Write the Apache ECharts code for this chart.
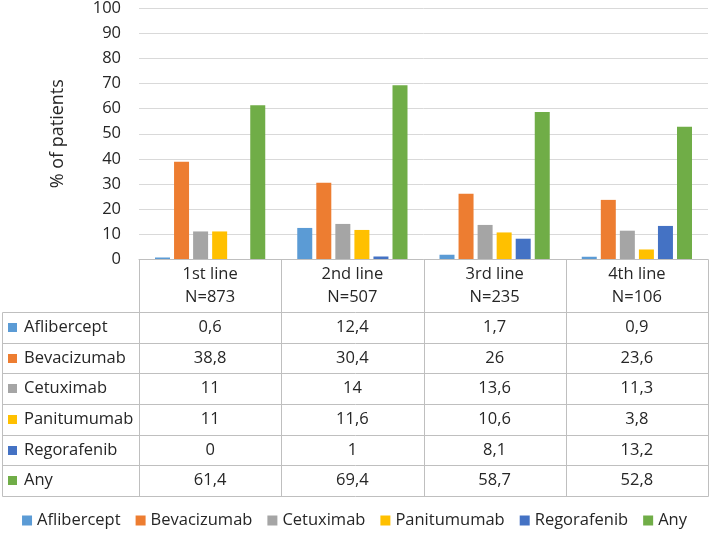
<!DOCTYPE html>
<html>
<head>
<meta charset="utf-8">
<script src="https://cdn.jsdelivr.net/npm/echarts@6/dist/echarts.min.js"></script>
<style>html,body{margin:0;padding:0;background:#fff;}#c{width:709px;height:535px;}</style>
</head>
<body>
<div id="c"></div>
<script>
const categories = ['1st line\nN=873', '2nd line\nN=507', '3rd line\nN=235', '4th line\nN=106'];
const seriesNames = ['Aflibercept', 'Bevacizumab', 'Cetuximab', 'Panitumumab', 'Regorafenib', 'Any'];
const aflibercept = [0.6, 12.4, 1.7, 0.9];
const bevacizumab = [38.8, 30.4, 26, 23.6];
const cetuximab = [11, 14, 13.6, 11.3];
const panitumumab = [11, 11.6, 10.6, 3.8];
const regorafenib = [0, 1, 8.1, 13.2];
const anyAgent = [61.4, 69.4, 58.7, 52.8];
const yMin = 0, yMax = 100, yInterval = 10;

const seriesData = [aflibercept, bevacizumab, cetuximab, panitumumab, regorafenib, anyAgent];
const colors = ['#5B9BD5', '#ED7D31', '#A5A5A5', '#FFC000', '#4472C4', '#70AD47'];
const FONT = '"Open Sans", sans-serif';
const TXT = '#262626';
const FS = 16.5;

const chart = echarts.init(document.getElementById('c'), null, {renderer: 'canvas'});
chart.setOption({
  animation: false,
  backgroundColor: '#fff',
  color: colors,
  grid: {left: 139, right: 1, top: 7, bottom: 276, containLabel: false},
  legend: {
    data: seriesNames,
    bottom: 1,
    left: 'center',
    itemWidth: 10, itemHeight: 10, itemGap: 15,
    icon: 'rect',
    textStyle: {fontFamily: FONT, fontSize: FS, color: TXT}
  },
  xAxis: {
    type: 'category',
    data: categories,
    axisLine: {show: true, lineStyle: {color: '#bfbfbf'}},
    axisTick: {show: false},
    axisLabel: {fontFamily: FONT, fontSize: FS, color: TXT, lineHeight: 23, margin: 4}
  },
  yAxis: {
    type: 'value',
    min: yMin, max: yMax, interval: yInterval,
    name: '% of patients',
    nameLocation: 'middle',
    nameGap: 72,
    nameTextStyle: {fontFamily: FONT, fontSize: 18, color: TXT},
    axisLine: {show: false},
    axisTick: {show: false},
    axisLabel: {fontFamily: FONT, fontSize: FS, color: TXT, margin: 18},
    splitLine: {lineStyle: {color: '#d9d9d9'}}
  },
  series: seriesNames.map((n, i) => ({
    name: n,
    type: 'bar',
    data: seriesData[i],
    barWidth: 15,
    barGap: '27%'
  }))
});

// Build the data table below the plot, aligned to the category axis
const x0 = chart.convertToPixel({xAxisIndex: 0}, 0);
const x1 = chart.convertToPixel({xAxisIndex: 0}, 1);
const band = x1 - x0;
const yZero = chart.convertToPixel({yAxisIndex: 0}, 0);
const tableLeft = 2;
const headerH = 53;
const rowH = 30.67;
const plotLeft = x0 - band / 2;
const plotRight = plotLeft + band * categories.length;
const headerBottom = yZero + headerH;
const tableBottom = headerBottom + rowH * seriesNames.length;
const px = v => Math.round(v) + 0.5;
const lineStyle = {stroke: '#bfbfbf', lineWidth: 1};
const els = [];
for (let i = 0; i <= categories.length; i++) {
  const x = px(plotLeft + band * i);
  els.push({type: 'line', shape: {x1: x, y1: px(yZero), x2: x, y2: px(tableBottom)}, style: lineStyle, silent: true});
}
els.push({type: 'line', shape: {x1: px(tableLeft), y1: px(headerBottom), x2: px(tableLeft), y2: px(tableBottom)}, style: lineStyle, silent: true});
for (let r = 0; r <= seriesNames.length; r++) {
  const y = px(headerBottom + rowH * r);
  els.push({type: 'line', shape: {x1: px(tableLeft), y1: y, x2: px(plotRight), y2: y}, style: lineStyle, silent: true});
}
const fmt = v => String(v).replace('.', ',');
seriesNames.forEach((n, r) => {
  const yc = headerBottom + rowH * r + rowH / 2;
  els.push({type: 'rect', shape: {x: 8, y: Math.round(yc - 4.5), width: 9, height: 9}, style: {fill: colors[r]}, silent: true});
  els.push({type: 'text', style: {text: n, x: 24, y: yc, textAlign: 'left', textVerticalAlign: 'middle', font: FS + 'px ' + FONT, fill: TXT}, silent: true});
  seriesData[r].forEach((v, c) => {
    const xc = chart.convertToPixel({xAxisIndex: 0}, c);
    els.push({type: 'text', style: {text: fmt(v), x: xc, y: yc, textAlign: 'center', textVerticalAlign: 'middle', font: FS + 'px ' + FONT, fill: TXT}, silent: true});
  });
});
chart.setOption({graphic: {elements: els}});
</script>
</body>
</html>
